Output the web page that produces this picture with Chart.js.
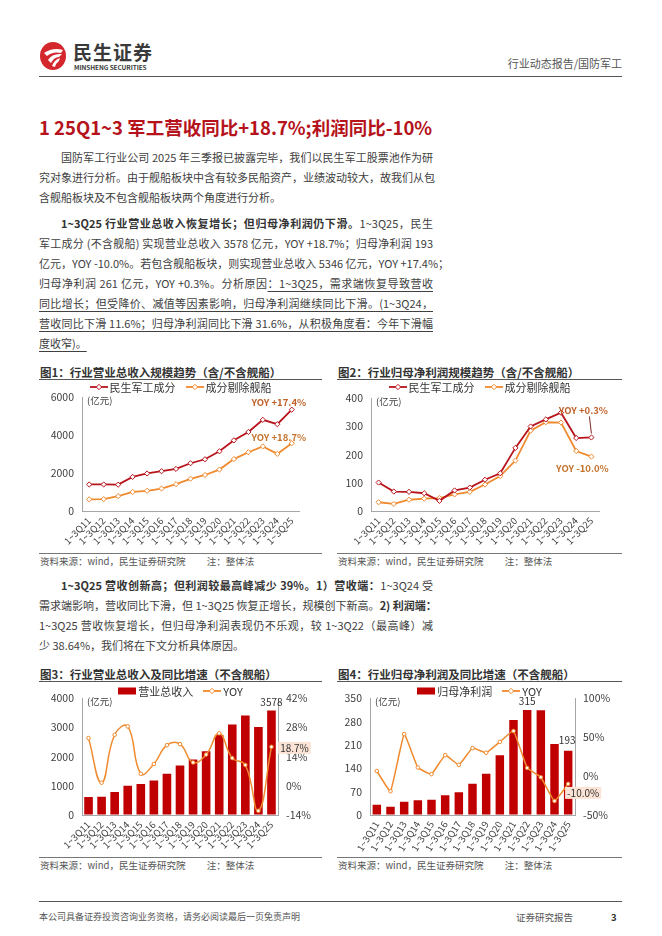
<!DOCTYPE html>
<html>
<head>
<meta charset="utf-8">
<script src="https://cdn.jsdelivr.net/npm/chart.js@4.4.0/dist/chart.umd.min.js"></script>
<style>
  html, body { margin: 0; padding: 0; background: #fff; }
  body { width: 662px; height: 936px; position: relative; overflow: hidden;
         font-family: "Noto Sans CJK SC", "Noto Sans", sans-serif; color: #404040; }
  .abs { position: absolute; }
  .ln { height: 20px; line-height: 20px; font-size: 11px; width: 394px;
        text-align: justify; text-align-last: justify; white-space: nowrap; }
  .ln.last { text-align-last: left; }
  .ind { padding-left: 22px; width: 372px; }
  .u { text-decoration: underline; text-underline-offset: 3px; text-decoration-thickness: 1px; }
  b { color: #333; }
  .figt { font-size: 11.5px; font-weight: bold; color: #333; line-height: 16px; }
  .rule { height: 1px; background: #555; }
  .src { font-size: 9.5px; color: #555; line-height: 12px; white-space: pre; }
  .legend { display: flex; justify-content: center; align-items: center; gap: 10px;
            font-size: 11px; color: #333; line-height: 14px; z-index: 2; }
  .legend span { display: inline-flex; align-items: center; gap: 2px; }
  .box { position: absolute; }
</style>
</head>
<body>

<!-- header -->
<svg class="abs" style="left:39px;top:41px" width="30" height="30" viewBox="0 0 30 30">
  <ellipse cx="14" cy="15" rx="13" ry="14" fill="#d3262d"/>
  <path d="M5 12 Q14 6 24 9 L22 12 Q14 10 8 15 Z" fill="#fff"/>
  <path d="M9 19 Q13 12 23 13 L20 16 Q15 16 12 22 Z" fill="#fff"/>
  <path d="M13 25 Q15 19 21 17 L20 20 Q17 22 16 26 Z" fill="#fff"/>
</svg>
<div class="abs" style="left:73px;top:41px;font-size:19px;font-weight:bold;color:#3a3a3a;letter-spacing:1px;line-height:22px">民生证券</div>
<div class="abs" style="left:74px;top:63px;font-size:6.5px;font-weight:bold;color:#3a3a3a;line-height:8px;letter-spacing:-0.1px">MINSHENG SECURITIES</div>
<div class="abs" style="right:40px;top:55px;font-size:11px;color:#555;line-height:16px">行业动态报告/国防军工</div>
<div class="abs rule" style="left:39px;top:76px;width:583px"></div>

<!-- section title -->
<div class="abs" style="left:39px;top:114px;font-size:18.5px;font-weight:bold;color:#b5121b;line-height:26px;white-space:nowrap">1 25Q1~3 军工营收同比+18.7%;利润同比-10%</div>

<!-- paragraph 1 -->
<div class="abs" style="left:39px;top:147px">
  <div class="ln ind">国防军工行业公司 2025 年三季报已披露完毕，我们以民生军工股票池作为研</div>
  <div class="ln">究对象进行分析。由于舰船板块中含有较多民船资产，业绩波动较大，故我们从包</div>
  <div class="ln last">含舰船板块及不包含舰船板块两个角度进行分析。</div>
</div>

<!-- paragraph 2 -->
<div class="abs" style="left:39px;top:213px">
  <div class="ln ind"><b>1~3Q25 行业营业总收入恢复增长；但归母净利润仍下滑。</b>1~3Q25，民生</div>
  <div class="ln">军工成分 (不含舰船) 实现营业总收入 3578 亿元，YOY +18.7%；归母净利润 193</div>
  <div class="ln">亿元，YOY -10.0%。若包含舰船板块，则实现营业总收入 5346 亿元，YOY +17.4%；</div>
  <div class="ln">归母净利润 261 亿元，YOY +0.3%。分析原因<span class="u">：1~3Q25，需求端恢复导致营收</span></div>
  <div class="ln"><span class="u">同比增长；但受降价、减值等因素影响，归母净利润继续同比下滑。(1~3Q24，</span></div>
  <div class="ln"><span class="u">营收同比下滑 11.6%；归母净利润同比下滑 31.6%，从积极角度看：今年下滑幅</span></div>
  <div class="ln last"><span class="u">度收窄)。</span></div>
</div>

<!-- figure 1 / 2 -->
<div class="abs figt" style="left:40px;top:364px">图1：行业营业总收入规模趋势（含/不含舰船）</div>
<div class="abs rule" style="left:39px;top:379px;width:283px"></div>
<div class="abs figt" style="left:338px;top:364px">图2：行业归母净利润规模趋势（含/不含舰船）</div>
<div class="abs rule" style="left:337px;top:379px;width:285px"></div>

<div class="abs legend" style="left:39px;top:380px;width:283px" id="lg1"></div>
<div class="abs legend" style="left:337px;top:380px;width:285px" id="lg2"></div>
<div class="box" style="left:39px;top:383px;width:283px;height:169px"><canvas id="c1"></canvas></div>
<div class="box" style="left:337px;top:384px;width:285px;height:168px"><canvas id="c2"></canvas></div>

<div class="abs rule" style="left:39px;top:553px;width:283px;background:#777"></div>
<div class="abs src" style="left:40px;top:555px">资料来源：wind，民生证券研究院          注：整体法</div>
<div class="abs rule" style="left:337px;top:553px;width:285px;background:#777"></div>
<div class="abs src" style="left:338px;top:555px">资料来源：wind，民生证券研究院          注：整体法</div>

<!-- paragraph 3 -->
<div class="abs" style="left:39px;top:575px">
  <div class="ln ind"><b>1~3Q25 营收创新高；但利润较最高峰减少 39%。1）营收端：</b>1~3Q24 受</div>
  <div class="ln">需求端影响，营收同比下滑，但 1~3Q25 恢复正增长，规模创下新高。<b>2) 利润端：</b></div>
  <div class="ln">1~3Q25 营收恢复增长，但归母净利润表现仍不乐观，较 1~3Q22（最高峰）减</div>
  <div class="ln last">少 38.64%，我们将在下文分析具体原因。</div>
</div>

<!-- figure 3 / 4 -->
<div class="abs figt" style="left:40px;top:666px">图3：行业营业总收入及同比增速（不含舰船）</div>
<div class="abs rule" style="left:39px;top:681px;width:283px"></div>
<div class="abs figt" style="left:338px;top:666px">图4：行业归母净利润及同比增速（不含舰船）</div>
<div class="abs rule" style="left:337px;top:681px;width:285px"></div>

<div class="abs legend" style="left:39px;top:684px;width:283px" id="lg3"></div>
<div class="abs legend" style="left:337px;top:684px;width:285px" id="lg4"></div>
<div class="box" style="left:39px;top:684px;width:283px;height:172px"><canvas id="c3"></canvas></div>
<div class="box" style="left:337px;top:684px;width:285px;height:172px"><canvas id="c4"></canvas></div>

<div class="abs rule" style="left:39px;top:857px;width:283px;background:#777"></div>
<div class="abs src" style="left:40px;top:859px">资料来源：wind，民生证券研究院          注：整体法</div>
<div class="abs rule" style="left:337px;top:857px;width:285px;background:#777"></div>
<div class="abs src" style="left:338px;top:859px">资料来源：wind，民生证券研究院          注：整体法</div>

<!-- footer -->
<div class="abs rule" style="left:39px;top:901px;width:583px"></div>
<div class="abs" style="left:39px;top:911px;font-size:9px;color:#555;line-height:12px">本公司具备证券投资咨询业务资格，请务必阅读最后一页免责声明</div>
<div class="abs" style="left:516px;top:911px;font-size:9.5px;color:#555;line-height:12px">证券研究报告</div>
<div class="abs" style="left:611px;top:911px;font-size:9.5px;color:#333;font-weight:bold;line-height:12px">3</div>

<script>
// ── Data ──
const quarters = ['1~3Q11', '1~3Q12', '1~3Q13', '1~3Q14', '1~3Q15', '1~3Q16', '1~3Q17', '1~3Q18',
  '1~3Q19', '1~3Q20', '1~3Q21', '1~3Q22', '1~3Q23', '1~3Q24', '1~3Q25'];

// 营业总收入 (亿元)
const revAll = [1400, 1400, 1390, 1800, 1980, 2100, 2220, 2520, 2730, 3150, 3730, 4170, 4810, 4580, 5346];
const revEx = [615, 625, 785, 1005, 1065, 1185, 1415, 1700, 1900, 2185, 2740, 3100, 3410, 3013, 3578];
const revYoy = [22.9, 1.5, 24.5, 28.5, 5.8, 10.5, 19.5, 20.0, 11.2, 15.0, 25.2, 13.3, 10.0, -12.0, 18.7];

// 归母净利润 (亿元)
const profitAll = [101, 69, 68, 63, 36, 73, 83, 111, 134, 224, 300, 325, 349, 259, 261];
const profitEx = [31, 25, 40, 44, 46, 59, 68, 94, 124, 179, 285, 315, 314, 213, 193];
const profitYoy = [6.5, -19.5, 54, 11, 2.5, 27, 14.5, 36, 30, 44, 58, 10.5, -1.5, -32, -10.0];

const seriesNames = ['民生军工成分', '成分剔除舰船'];
const revYoyNotes = ['YOY +17.4%', 'YOY +18.7%'];
const profitYoyNotes = ['YOY +0.3%', 'YOY -10.0%'];

const RED = '#b8141c';
const BAR = '#c00000';
const ORANGE = '#f08a2e';
const NOTE = '#c0622a';
const FONT = '"Noto Sans CJK SC", "Noto Sans", sans-serif';

Chart.defaults.font.family = FONT;
Chart.defaults.color = '#404040';
Chart.defaults.animation = false;

// ── Legends (HTML) ──
function lineMark(color) {
  return `<svg width="18" height="8"><line x1="0" y1="4" x2="18" y2="4" stroke="${color}" stroke-width="1.8"/>` +
    `<path d="M9 1.3 L11.7 4 L9 6.7 L6.3 4 Z" fill="#fff" stroke="${color}" stroke-width="1"/></svg>`;
}
function rectMark(color) {
  return `<svg width="18" height="8"><rect x="0" y="0.5" width="18" height="7" fill="${color}"/></svg>`;
}
document.getElementById('lg1').innerHTML =
  `<span>${lineMark(RED)}${seriesNames[0]}</span><span>${lineMark(ORANGE)}${seriesNames[1]}</span>`;
document.getElementById('lg2').innerHTML =
  `<span>${lineMark(RED)}${seriesNames[0]}</span><span>${lineMark(ORANGE)}${seriesNames[1]}</span>`;
document.getElementById('lg3').innerHTML =
  `<span>${rectMark(BAR)}营业总收入</span><span>${lineMark(ORANGE)}YOY</span>`;
document.getElementById('lg4').innerHTML =
  `<span>${rectMark(BAR)}归母净利润</span><span>${lineMark(ORANGE)}YOY</span>`;

// ── Plugins: unit label + point notes ──
const unitPlugin = {
  id: 'unit',
  afterDraw(chart) {
    const { ctx, chartArea } = chart;
    ctx.save();
    ctx.font = `9.5px ${FONT}`;
    ctx.fillStyle = '#404040';
    ctx.textBaseline = 'middle';
    ctx.fillText('(亿元)', chartArea.left + 5, chartArea.top + 3);
    ctx.restore();
  },
};

const notePlugin = {
  id: 'notes',
  afterDatasetsDraw(chart, args, opts) {
    const ctx = chart.ctx;
    (opts.items || []).forEach(n => {
      const pt = chart.getDatasetMeta(n.ds).data[n.idx];
      const x = pt.x + n.dx;
      const y = pt.y + n.dy;
      ctx.save();
      ctx.font = n.font || `10px ${FONT}`;
      ctx.textAlign = 'center';
      ctx.textBaseline = 'middle';
      const w = ctx.measureText(n.text).width;
      if (n.bg) {
        ctx.fillStyle = n.bg;
        ctx.fillRect(x - w / 2 - 2, y - 6, w + 4, 12);
      }
      if (n.lead) {
        ctx.strokeStyle = n.lead;
        ctx.lineWidth = 1;
        ctx.beginPath();
        ctx.moveTo(x + 6, y + 6);
        ctx.lineTo(pt.x, pt.y - 4);
        ctx.stroke();
      }
      ctx.fillStyle = n.color || '#333';
      ctx.fillText(n.text, x, y);
      ctx.restore();
    });
  },
};

// ── Shared scale helpers ──
function xScale(rot) {
  return {
    offset: true,
    grid: { display: true, drawOnChartArea: false, drawTicks: false },
    border: { display: true, color: '#a6a6a6', width: 1 },
    ticks: { font: { size: 9.5 }, minRotation: rot, maxRotation: rot, autoSkip: false, padding: 4 },
    afterFit: s => { s.height = 41; },
  };
}
function yScale(min, max, step, width, pos, fmt) {
  return {
    position: pos,
    min: min, max: max,
    grid: { display: true, drawOnChartArea: false, drawTicks: false },
    border: { display: true, color: '#a6a6a6', width: 1 },
    ticks: { stepSize: step, font: { size: 10.5 }, padding: 8, callback: fmt || (v => v) },
    afterFit: s => { s.width = width; },
  };
}
function lineSet(label, data, color, extra) {
  return Object.assign({
    type: 'line', label: label, data: data,
    borderColor: color, borderWidth: 1.8,
    pointStyle: 'rectRot', pointRadius: 2.6, pointBorderWidth: 1,
    pointBackgroundColor: '#fff', pointBorderColor: color,
    tension: 0, fill: false,
  }, extra || {});
}
const baseOpts = {
  responsive: true,
  maintainAspectRatio: false,
  events: [],
};

// ── 图1 营业总收入规模 ──
new Chart(document.getElementById('c1'), {
  type: 'line',
  data: {
    labels: quarters,
    datasets: [lineSet(seriesNames[0], revAll, RED), lineSet(seriesNames[1], revEx, ORANGE)],
  },
  options: Object.assign({}, baseOpts, {
    layout: { padding: { top: 0, right: 23, left: 0, bottom: 0 } },
    plugins: {
      legend: { display: false }, tooltip: { enabled: false },
      notes: { items: [
        { ds: 0, idx: 14, dx: -13, dy: -7, text: revYoyNotes[0], color: NOTE, font: `bold 9.5px ${FONT}` },
        { ds: 1, idx: 14, dx: -13, dy: -6, text: revYoyNotes[1], color: '#c5742e', font: `bold 9.5px ${FONT}` },
      ] },
    },
    scales: { x: xScale(45), y: yScale(0, 6000, 2000, 43, 'left') },
  }),
  plugins: [unitPlugin, notePlugin],
});

// ── 图2 归母净利润规模 ──
new Chart(document.getElementById('c2'), {
  type: 'line',
  data: {
    labels: quarters,
    datasets: [lineSet(seriesNames[0], profitAll, RED), lineSet(seriesNames[1], profitEx, ORANGE)],
  },
  options: Object.assign({}, baseOpts, {
    layout: { padding: { top: 0, right: 23, left: 0, bottom: 0 } },
    plugins: {
      legend: { display: false }, tooltip: { enabled: false },
      notes: { items: [
        { ds: 0, idx: 14, dx: -8, dy: -27, text: profitYoyNotes[0], color: NOTE, font: `bold 9.5px ${FONT}`, lead: '#7a2a20' },
        { ds: 1, idx: 14, dx: -9, dy: 12, text: profitYoyNotes[1], color: '#c5742e', font: `bold 9.5px ${FONT}` },
      ] },
    },
    scales: { x: xScale(45), y: yScale(0, 400, 100, 34, 'left') },
  }),
  plugins: [unitPlugin, notePlugin],
});

// ── 图3 营业总收入及同比 ──
new Chart(document.getElementById('c3'), {
  type: 'bar',
  data: {
    labels: quarters,
    datasets: [
      { type: 'bar', label: '营业总收入', data: revEx, backgroundColor: BAR, yAxisID: 'y',
        categoryPercentage: 1, barPercentage: 0.66, order: 2 },
      lineSet('YOY', revYoy, ORANGE, { yAxisID: 'y1', borderWidth: 1.5, pointStyle: 'circle',
        pointRadius: 1.8, tension: 0.45, order: 1 }),
    ],
  },
  options: Object.assign({}, baseOpts, {
    layout: { padding: 0 },
    plugins: {
      legend: { display: false }, tooltip: { enabled: false },
      notes: { items: [
        { ds: 0, idx: 14, dx: 0, dy: -8, text: String(revEx[14]), color: '#333', font: `10px ${FONT}` },
        { ds: 1, idx: 14, dx: 23, dy: 1, text: revYoy[14].toFixed(1) + '%', color: '#333', font: `10px ${FONT}`, bg: '#fbe3d6' },
      ] },
    },
    scales: {
      x: xScale(45),
      y: yScale(0, 4000, 1000, 43, 'left'),
      y1: yScale(-14, 42, 14, 44, 'right', v => v + '%'),
    },
  }),
  plugins: [unitPlugin, notePlugin],
});

// ── 图4 归母净利润及同比 ──
new Chart(document.getElementById('c4'), {
  type: 'bar',
  data: {
    labels: quarters,
    datasets: [
      { type: 'bar', label: '归母净利润', data: profitEx, backgroundColor: BAR, yAxisID: 'y',
        categoryPercentage: 1, barPercentage: 0.62, order: 2 },
      lineSet('YOY', profitYoy, ORANGE, { yAxisID: 'y1', borderWidth: 1.5, pointStyle: 'circle',
        pointRadius: 1.8, tension: 0.1, order: 1 }),
    ],
  },
  options: Object.assign({}, baseOpts, {
    layout: { padding: 0 },
    plugins: {
      legend: { display: false }, tooltip: { enabled: false },
      notes: { items: [
        { ds: 0, idx: 11, dx: 0, dy: -9, text: String(profitEx[11]), color: '#333', font: `10px ${FONT}` },
        { ds: 0, idx: 14, dx: -1, dy: -10, text: String(profitEx[14]), color: '#333', font: `10px ${FONT}` },
        { ds: 1, idx: 14, dx: 15, dy: 9, text: profitYoy[14].toFixed(1) + '%', color: '#333', font: `10px ${FONT}`, bg: '#fbe3d6' },
      ] },
    },
    scales: {
      x: xScale(58),
      y: yScale(0, 350, 70, 33, 'left'),
      y1: yScale(-50, 100, 50, 47, 'right', v => v + '%'),
    },
  }),
  plugins: [unitPlugin, notePlugin],
});
</script>
</body>
</html>
